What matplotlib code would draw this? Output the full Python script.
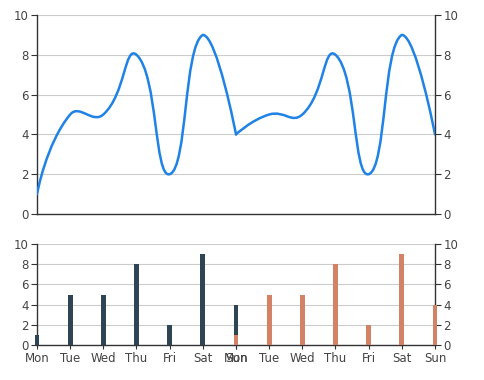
import matplotlib.pyplot as plt
import numpy as np
from matplotlib.path import Path
from matplotlib.patches import PathPatch

# dados
days = ['Mon', 'Tue', 'Wed', 'Thu', 'Fri', 'Sat', 'Sun']
line_a = [1, 5, 5, 8, 2, 9, 4]
line_b = [4, 5, 5, 8, 2, 9, 4]
bars_a = [1, 5, 5, 8, 2, 9, 4]
bars_b = [1, 5, 5, 8, 2, 9, 4]

line_color = '#1e82e6'
dark = '#2f4554'
orange = '#d48265'
axis_c = '#333333'
grid_c = '#cccccc'
text_c = '#444444'

W, H = 485, 380
fig = plt.figure(figsize=(W / 100, H / 100), dpi=100)

x0, x1 = 37, 435
ax1 = fig.add_axes([x0 / W, (H - 214) / H, (x1 - x0) / W, 199 / H])
ax2 = fig.add_axes([x0 / W, (H - 345) / H, (x1 - x0) / W, 101 / H])


# curva suave no estilo echarts (bezier com pontas fixas)
def smooth_path(xs, ys, sx, sy, lo, hi, smooth=0.5):
    P = np.column_stack([np.array(xs, float) * sx, np.array(ys, float) * sy])
    n = len(P)
    cps = []
    for i in range(n):
        if i == 0 or i == n - 1:
            cps.append(P[i].copy())
            continue
        v = (P[i + 1] - P[i - 1]) * smooth
        d0 = np.linalg.norm(P[i] - P[i - 1])
        d1 = np.linalg.norm(P[i + 1] - P[i])
        s = d0 + d1
        d0, d1 = d0 / s, d1 / s
        c0 = P[i] - v * d0
        c1 = P[i] + v * d1
        c0[1] = np.clip(c0[1], lo * sy, hi * sy)
        c1[1] = np.clip(c1[1], lo * sy, hi * sy)
        cps.append(c0)
        cps.append(c1)
    verts = [P[0]]
    codes = [Path.MOVETO]
    for i in range(n - 1):
        verts += [cps[2 * i], cps[2 * i + 1], P[i + 1]]
        codes += [Path.CURVE4] * 3
    verts = np.array(verts) / np.array([sx, sy])
    return Path(verts, codes)


sx = (x1 - x0) / 12.0
sy = 199 / 10.0
lo = min(line_a + line_b)
hi = max(line_a + line_b)
xa = np.arange(7)
xb = np.arange(6, 13)
for xs, ys in [(xa, line_a), (xb, line_b)]:
    p = smooth_path(xs, ys, sx, sy, lo, hi)
    ax1.add_patch(PathPatch(p, fill=False, edgecolor=line_color, lw=1.8,
                            capstyle='round', joinstyle='round', zorder=3))

ax2.bar(xa, bars_a, width=0.15, color=dark, zorder=3, clip_on=False)
ax2.bar(xb, bars_b, width=0.15, color=orange, zorder=3, clip_on=False)

for ax in (ax1, ax2):
    ax.set_xlim(0, 12)
    ax.set_ylim(0, 10)
    ax.set_yticks(range(0, 11, 2))
    ax.grid(axis='y', color=grid_c, lw=0.8, zorder=0)
    ax.spines['top'].set_visible(False)
    for s in ('left', 'right', 'bottom'):
        ax.spines[s].set_color(axis_c)
        ax.spines[s].set_linewidth(1)
    ax.tick_params(axis='y', left=True, right=True, labelleft=True,
                   labelright=True, length=4, color=axis_c,
                   labelcolor=text_c, labelsize=8.5, pad=2)

ax1.set_xticks([])

ax2.set_xticks(xa)
ax2.set_xticklabels(days)
ax2.tick_params(axis='x', length=3, color=axis_c, labelcolor=text_c,
                labelsize=8.5, pad=2)

# segundo eixo x para a segunda semana
ax3 = ax2.twiny()
ax3.set_xlim(0, 12)
ax3.xaxis.set_ticks_position('bottom')
ax3.set_xticks(xb)
ax3.set_xticklabels(days)
ax3.tick_params(axis='x', length=3, color=axis_c, labelcolor=text_c,
                labelsize=8.5, pad=2)
for s in ax3.spines.values():
    s.set_visible(False)

fig.savefig('out.png', dpi=100)
